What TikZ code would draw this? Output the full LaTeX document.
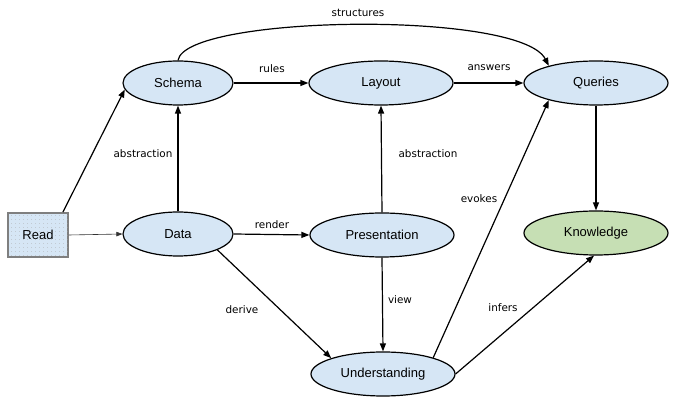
\documentclass[tikz,border=0pt]{standalone}
\usepackage{fontspec}
\setmainfont{Liberation Sans}
\newfontfamily\lblfont{DejaVu Sans}
\usetikzlibrary{shapes.geometric,arrows.meta,patterns.meta}
\definecolor{nodeblue}{HTML}{D6E6F5}
\definecolor{nodegreen}{HTML}{C6DFB4}
\definecolor{readborder}{HTML}{7F7F7F}
\tikzset{
  ell/.style={ellipse, draw=black, line width=1.2pt, fill=nodeblue, inner sep=0pt,
    minimum width=144pt, minimum height=44pt, font=\fontsize{13}{15}\selectfont},
  smallell/.style={ell, minimum width=110pt},
  greenell/.style={ell, fill=nodegreen},
  readbox/.style={rectangle, draw=readborder, line width=1.8pt, fill=nodeblue,
    minimum width=60pt, minimum height=44pt, inner sep=0pt,
    font=\fontsize{13}{15}\selectfont,
    postaction={pattern={Dots[distance=4pt,radius=0.35pt]}, pattern color=gray!70}},
  arr/.style={draw=black, line width=1.2pt, -{Triangle[length=8pt,width=6pt]}},
  thinarr/.style={draw=black!80, line width=0.6pt, -{Triangle[length=6pt,width=4.5pt]}},
  lbl/.style={font=\lblfont\fontsize{10.4}{12}\selectfont, inner sep=0pt}
}
\begin{document}
\begin{tikzpicture}[x=1pt,y=-1pt]
\useasboundingbox (0,0) rectangle (673,403);
\node[readbox] (read) at (38,235) {Read};
\node[smallell] (schema) at (178,83) {Schema};
\node[smallell] (data) at (178,234) {Data};
\node[ell] (layout) at (381,83) {Layout};
\node[ell] (presentation) at (382,235) {Presentation};
\node[ell] (understanding) at (383,374) {Understanding};
\node[ell] (queries) at (596,83) {Queries};
\node[greenell] (knowledge) at (596,233) {Knowledge};

\draw[arr] ([xshift=-6pt]read.north east) -- (schema.187);
\draw[thinarr] (read.east) -- (data.west);
\draw[arr] (data.north) -- (schema.south);
\draw[arr] (schema.east) -- (layout.west);
\draw[arr] (layout.east) -- (queries.west);
\draw[arr] (schema.north) .. controls (185,15) and (520,10) .. (queries.160);
\draw[arr] (data.east) -- (presentation.west);
\draw[arr] (presentation.north) -- (layout.south);
\draw[arr] (presentation.south) -- (understanding.north);
\draw[arr] (data.-22) -- (understanding.163);
\draw[arr] (understanding.18) -- (queries.-160);
\draw[arr] (understanding.east) -- (knowledge.265);
\draw[arr] (queries.south) -- (knowledge.north);

\node[lbl] (lstructures) at (358,13) {structures};
\node[lbl] (lrules) at (272,69) {rules};
\node[lbl] (lanswers) at (489,68) {answers};
\node[lbl] (labs1) at (143,154) {abstraction};
\node[lbl] (labs2) at (428,154) {abstraction};
\node[lbl] (lrender) at (272,225) {render};
\node[lbl] (levokes) at (479,199) {evokes};
\node[lbl] (lderive) at (242,310) {derive};
\node[lbl] (lview) at (400,300) {view};
\node[lbl] (linfers) at (503,308) {infers};
\end{tikzpicture}
\end{document}
